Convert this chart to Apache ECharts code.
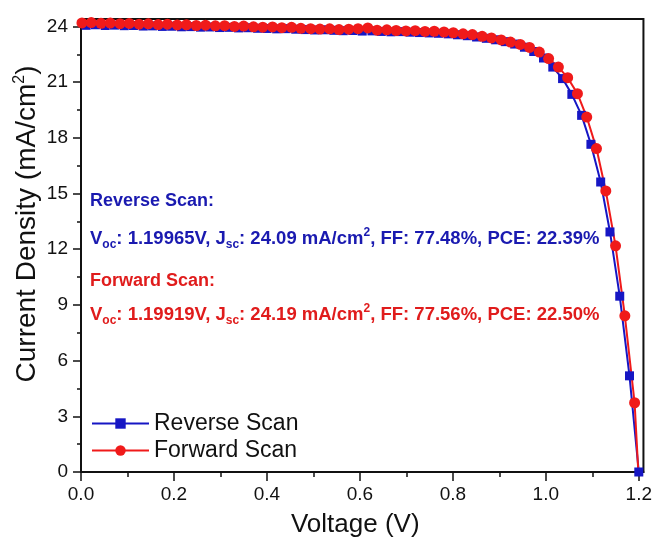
<!DOCTYPE html>
<html>
<head>
<meta charset="utf-8">
<script src="https://cdn.jsdelivr.net/npm/echarts@6/dist/echarts.min.js"></script>
<style>
  html, body { margin: 0; padding: 0; background: #fff; }
  #chart { width: 655px; height: 547px; }
</style>
</head>
<body>
<div id="chart"></div>
<script>
// J-V curves of the cell, reverse and forward sweep
const reverseV = [0.011, 0.031, 0.052, 0.072, 0.093, 0.113, 0.134, 0.154, 0.175, 0.195,
  0.216, 0.236, 0.257, 0.277, 0.298, 0.318, 0.339, 0.359, 0.380, 0.400,
  0.421, 0.441, 0.462, 0.482, 0.503, 0.523, 0.544, 0.564, 0.585, 0.605,
  0.626, 0.646, 0.667, 0.687, 0.708, 0.728, 0.749, 0.769, 0.790, 0.810,
  0.831, 0.851, 0.872, 0.892, 0.913, 0.933, 0.954, 0.974, 0.995, 1.015,
  1.036, 1.056, 1.077, 1.097, 1.118, 1.138, 1.159, 1.180, 1.200];
const reverseJ = [24.06, 24.09, 24.05, 24.07, 24.04, 24.05, 24.02, 24.03, 24.00, 24.01,
  23.98, 23.99, 23.96, 23.97, 23.94, 23.95, 23.92, 23.93, 23.90, 23.89,
  23.87, 23.88, 23.85, 23.83, 23.81, 23.82, 23.79, 23.77, 23.78, 23.75,
  23.76, 23.73, 23.71, 23.72, 23.69, 23.67, 23.65, 23.63, 23.60, 23.55,
  23.50, 23.43, 23.36, 23.28, 23.18, 23.05, 22.88, 22.65, 22.30, 21.81,
  21.19, 20.34, 19.21, 17.65, 15.62, 12.93, 9.47, 5.18, 0];

const forwardV = [0.002, 0.022, 0.043, 0.063, 0.084, 0.104, 0.125, 0.145, 0.166, 0.186,
  0.207, 0.227, 0.248, 0.268, 0.289, 0.309, 0.330, 0.350, 0.371, 0.391,
  0.412, 0.432, 0.453, 0.473, 0.494, 0.514, 0.535, 0.555, 0.576, 0.596,
  0.617, 0.637, 0.658, 0.678, 0.699, 0.719, 0.740, 0.760, 0.781, 0.801,
  0.822, 0.842, 0.863, 0.883, 0.904, 0.924, 0.945, 0.965, 0.986, 1.006,
  1.027, 1.047, 1.068, 1.088, 1.109, 1.129, 1.150, 1.170, 1.191, 1.199];
const forwardJ = [24.19, 24.21, 24.17, 24.18, 24.15, 24.16, 24.12, 24.14, 24.10, 24.12,
  24.08, 24.09, 24.05, 24.07, 24.03, 24.04, 24.00, 24.02, 23.98, 23.96,
  23.97, 23.93, 23.95, 23.90, 23.88, 23.86, 23.87, 23.83, 23.85, 23.88,
  23.92, 23.80, 23.82, 23.78, 23.76, 23.77, 23.73, 23.74, 23.70, 23.66,
  23.60, 23.56, 23.47, 23.38, 23.27, 23.16, 23.03, 22.87, 22.62, 22.27,
  21.81, 21.24, 20.38, 19.12, 17.42, 15.14, 12.18, 8.41, 3.73, 0];

const xTicks = [0, 0.2, 0.4, 0.6, 0.8, 1.0, 1.2];
const xMinorTicks = [0.1, 0.3, 0.5, 0.7, 0.9, 1.1];
const yTicks = [0, 3, 6, 9, 12, 15, 18, 21, 24];
const yMinorTicks = [1.5, 4.5, 7.5, 10.5, 13.5, 16.5, 19.5, 22.5];

const seriesNames = ['Reverse Scan', 'Forward Scan'];
const reverseStats = { voc: '1.19965V', jsc: '24.09', ff: '77.48%', pce: '22.39%' };
const forwardStats = { voc: '1.19919V', jsc: '24.19', ff: '77.56%', pce: '22.50%' };

const BLUE = '#1616c4';
const RED = '#f01a1a';
const TEXT_BLUE = '#1a1ab0';
const TEXT_RED = '#e01c1c';
const INK = '#111';
const FONT = 'Liberation Sans, Arial, sans-serif';

const pairs = (xs, ys) => xs.map((x, i) => [x, ys[i]]);
// the forward sweep ends on the axis without a marker of its own
const forwardData = pairs(forwardV, forwardJ).map((p, i, arr) =>
  i === arr.length - 1 ? { value: p, symbol: 'none' } : p);

function statsLine(s, k) {
  return `{${k}|V}{${k}Sub|oc}{${k}|: ${s.voc}, J}{${k}Sub|sc}` +
    `{${k}|: ${s.jsc} mA/cm}{${k}Sup|2}{${k}|, FF: ${s.ff}, PCE: ${s.pce}}`;
}
function richSet(k, color) {
  const base = { fontWeight: 'bold', fill: color, fontFamily: FONT };
  const r = {};
  r[k] = Object.assign({ fontSize: 18.5, lineHeight: 24 }, base);
  r[k + 'Sub'] = Object.assign({ fontSize: 12, lineHeight: 12, verticalAlign: 'bottom' }, base);
  r[k + 'Sup'] = Object.assign({ fontSize: 12, lineHeight: 12, verticalAlign: 'top' }, base);
  return r;
}

const tickLabelStyle = { fontSize: 19, color: INK, fontFamily: FONT };

const chart = echarts.init(document.getElementById('chart'), null, { renderer: 'canvas' });
chart.setOption({
  animation: false,
  backgroundColor: '#fff',
  grid: { left: 81, right: 10, top: 19, bottom: 75, show: true, borderColor: INK, borderWidth: 2, backgroundColor: 'transparent' },
  xAxis: [{
    type: 'value', min: 0, max: 1.21, interval: 0.2,
    name: 'Voltage (V)', nameLocation: 'middle', nameGap: 40,
    nameTextStyle: { fontSize: 26, color: INK, fontFamily: FONT, padding: [0, 14, 0, 0] },
    axisLine: { show: true, lineStyle: { color: INK, width: 2 } },
    axisTick: { show: true, inside: false, length: 9, customValues: xTicks, lineStyle: { color: INK, width: 1.5 } },
    axisLabel: Object.assign({ margin: 13, customValues: xTicks, formatter: v => v.toFixed(1) }, tickLabelStyle),
    splitLine: { show: false }
  }, {
    type: 'value', min: 0, max: 1.21, position: 'bottom',
    axisLine: { show: false },
    axisTick: { show: true, inside: false, length: 5, customValues: xMinorTicks, lineStyle: { color: INK, width: 1.5 } },
    axisLabel: { show: false },
    splitLine: { show: false }
  }],
  yAxis: [{
    type: 'value', min: 0, max: 24.4, interval: 3,
    axisLine: { show: true, lineStyle: { color: INK, width: 2 } },
    axisTick: { show: true, inside: false, length: 8, customValues: yTicks, lineStyle: { color: INK, width: 1.5 } },
    axisLabel: Object.assign({ margin: 13, customValues: yTicks }, tickLabelStyle),
    splitLine: { show: false }
  }, {
    type: 'value', min: 0, max: 24.4, position: 'left',
    axisLine: { show: false },
    axisTick: { show: true, inside: false, length: 4, customValues: yMinorTicks, lineStyle: { color: INK, width: 1.5 } },
    axisLabel: { show: false },
    splitLine: { show: false }
  }],
  legend: {
    orient: 'vertical', left: 91, top: 412, itemGap: 4, itemWidth: 57, itemHeight: 13,
    padding: 0,
    textStyle: { fontSize: 23, color: INK, fontFamily: FONT },
    data: seriesNames
  },
  graphic: [
    {
      type: 'text', x: 27, y: 224, rotation: Math.PI / 2,
      style: {
        text: '{t|Current Density (mA/cm}{s|2}{t|)}', align: 'center', verticalAlign: 'middle',
        rich: {
          t: { fontSize: 28, fill: INK, fontFamily: FONT, lineHeight: 30 },
          s: { fontSize: 16, fill: INK, fontFamily: FONT, lineHeight: 16, verticalAlign: 'top' }
        }
      }
    },
    { type: 'text', left: 90, top: 192, style: { text: 'Reverse Scan:', fontSize: 18, fontWeight: 'bold', fill: TEXT_BLUE, fontFamily: FONT } },
    { type: 'text', left: 90, top: 227, style: { text: statsLine(reverseStats, 'b'), rich: richSet('b', TEXT_BLUE) } },
    { type: 'text', left: 90, top: 272, style: { text: 'Forward Scan:', fontSize: 18, fontWeight: 'bold', fill: TEXT_RED, fontFamily: FONT } },
    { type: 'text', left: 90, top: 303, style: { text: statsLine(forwardStats, 'r'), rich: richSet('r', TEXT_RED) } }
  ],
  series: [{
    name: seriesNames[0], type: 'line', xAxisIndex: 0, yAxisIndex: 0,
    data: pairs(reverseV, reverseJ),
    symbol: 'rect', symbolSize: 9, showAllSymbol: true,
    lineStyle: { color: BLUE, width: 2 }, itemStyle: { color: BLUE }
  }, {
    name: seriesNames[1], type: 'line', xAxisIndex: 0, yAxisIndex: 0,
    data: forwardData,
    symbol: 'circle', symbolSize: 11, showAllSymbol: true,
    lineStyle: { color: RED, width: 2 }, itemStyle: { color: RED }
  }]
});
</script>
</body>
</html>
